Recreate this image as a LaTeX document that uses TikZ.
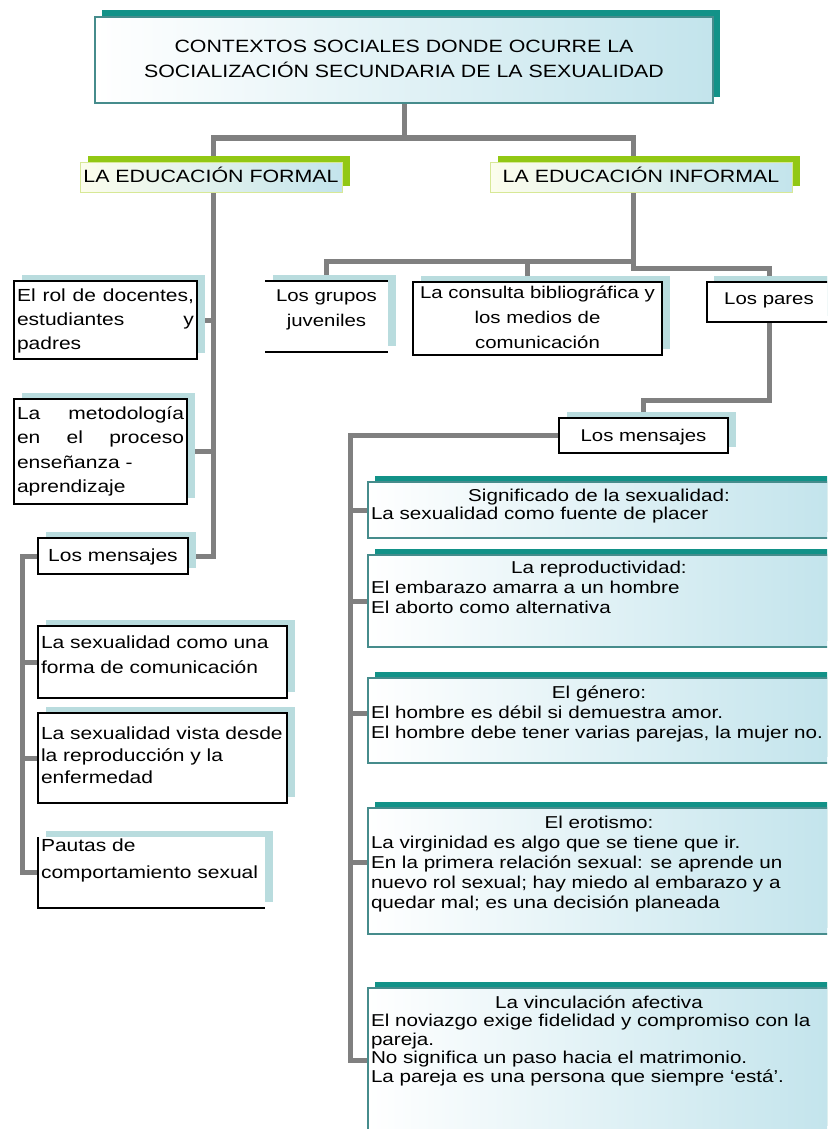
\documentclass[tikz,border=0pt]{standalone}
\usepackage{fontspec}
\setmainfont{Liberation Sans}[FakeStretch=1.2]
\usetikzlibrary{backgrounds,shadows}
\definecolor{conncol}{RGB}{128,128,128}
\definecolor{tealc}{RGB}{18,146,136}
\definecolor{greenc}{RGB}{146,200,20}
\definecolor{shblue}{RGB}{185,220,222}
\definecolor{fillblue}{RGB}{195,228,236}
\definecolor{tealedge}{RGB}{70,140,140}
\definecolor{paleedge}{RGB}{215,232,150}
\definecolor{paleyel}{RGB}{252,253,236}
\newcommand\fbx[1]{\rule{0pt}{#1pt}}
\newcommand\bxt[3]{\parbox[c][#2pt][t]{#1pt}{#3}}
\begin{document}
\begin{tikzpicture}[x=1pt,y=-1pt,
  conn/.style={draw=conncol, line width=5pt, line cap=rect},
  base/.style={anchor=north west, inner xsep=3pt, inner ysep=0pt, outer sep=0pt, font=\fontsize{17}{24}\selectfont},
  blackbox/.style={base, draw=black, line width=1.6pt, fill=white,
    general shadow={fill=shblue, draw=none, shadow xshift=8pt, shadow yshift=6pt}},
  openbox/.style={base, fill=white,
    general shadow={fill=shblue, draw=none, shadow xshift=8pt, shadow yshift=6pt}},
  greenbox/.style={base, draw=paleedge, line width=1pt, left color=paleyel, right color=fillblue,
    general shadow={fill=greenc, draw=none, shadow xshift=8pt, shadow yshift=6pt}},
  tealbox/.style={base, draw=tealedge, line width=1.2pt, left color=white, right color=fillblue,
    general shadow={fill=tealc, draw=none, shadow xshift=7pt, shadow yshift=6pt}},
  edge/.style={draw=black, line width=1.6pt}
]
\useasboundingbox (0,0) rectangle (827,1129);
\clip (0,0) rectangle (827,1129);

% title
\node[tealbox, general shadow={fill=tealc, draw=none, shadow xshift=7pt, shadow yshift=7pt}] (title) at (95,17)
  {\bxt{612}{86}{\centering\fontsize{17.8}{25}\selectfont\fbx{36}CONTEXTOS SOCIALES DONDE OCURRE LA\\SOCIALIZACIÓN SECUNDARIA DE LA SEXUALIDAD}};

% level 2
\node[greenbox] (formal) at (80,162) {\bxt{256}{30}{\centering\fontsize{17.8}{24}\selectfont\fbx{20}LA EDUCACIÓN FORMAL}};
\node[greenbox] (informal) at (490,162) {\bxt{296}{30}{\centering\fontsize{17.8}{24}\selectfont\fbx{20}LA EDUCACIÓN INFORMAL}};

% formal column
\node[blackbox] (rol) at (14,281) {\bxt{177}{78}{\raggedright\fontsize{17.5}{24}\selectfont\fbx{20}\makebox[\linewidth][s]{El rol de docentes,}\\\makebox[\linewidth][s]{estudiantes y}\\padres}};
\node[blackbox] (metod) at (14,399) {\bxt{167}{105}{\raggedright\fontsize{17.5}{24.5}\selectfont\fbx{20}\makebox[\linewidth][s]{La metodología}\\\makebox[\linewidth][s]{en el proceso}\\enseñanza -\\aprendizaje}};
\node[blackbox] (mensL) at (38,538) {\bxt{144}{36}{\centering\fontsize{17.5}{24}\selectfont\fbx{23}Los mensajes}};
\node[blackbox] (s1) at (38,626) {\bxt{243}{72}{\raggedright\fontsize{17.5}{25}\selectfont\fbx{22}La sexualidad como una\\forma de comunicación}};
\node[blackbox] (s2) at (38,713) {\bxt{243}{90}{\raggedright\fontsize{17.5}{22}\selectfont\fbx{26}\mbox{La sexualidad vista desde}\\la reproducción y la\\enfermedad}};
\node[openbox] (s3) at (38,837) {\bxt{221}{71}{\raggedright\fontsize{17.5}{27}\selectfont\fbx{14}Pautas de\\comportamiento sexual}};
\draw[edge] (s3.north west) -- (s3.south west) -- (s3.south east);

% informal row
\node[openbox] (grupos) at (265,281) {\bxt{117}{71}{\centering\fontsize{17}{25}\selectfont\fbx{20}Los grupos\\juveniles}};
\draw[edge] (grupos.north west) -- (grupos.north east);
\draw[edge] (grupos.south west) -- (grupos.south east);
\node[blackbox] (consulta) at (413,282) {\bxt{243}{73}{\centering\fontsize{17}{25}\selectfont\fbx{16}La consulta bibliográfica y\\los medios de\\comunicación}};
\node[blackbox, general shadow={fill=shblue, draw=none, shadow xshift=7pt, shadow yshift=6pt}] (pares) at (707,282) {\bxt{118}{40}{\centering\fbx{22}Los pares}};
\node[blackbox] (mensR) at (559,418) {\bxt{163}{35}{\centering\fbx{23}Los mensajes}};

% teal message boxes
\node[tealbox] (boxA) at (368,482) {\bxt{456}{56}{\fontsize{17.2}{18.5}\selectfont{\centering\fbx{19}Significado de la sexualidad:\par}\raggedright La sexualidad como fuente de placer}};
\node[tealbox] (boxB) at (368,555) {\bxt{456}{92}{\fontsize{17.2}{20}\selectfont{\centering\fbx{18}La reproductividad:\par}\raggedright El embarazo amarra a un hombre\\El aborto como alternativa}};
\node[tealbox] (boxC) at (368,678) {\bxt{456}{85}{\fontsize{17.2}{20}\selectfont{\centering\fbx{20}El género:\par}\raggedright El hombre es débil si demuestra amor.\\\mbox{El hombre debe tener varias parejas, la mujer no.}}};
\node[tealbox] (boxD) at (368,808) {\bxt{456}{126}{\fontsize{17.2}{20}\selectfont{\centering\fbx{20}El erotismo:\par}\raggedright La virginidad es algo que se tiene que ir.\\En la primera relación sexual: se aprende un\\nuevo rol sexual; hay miedo al embarazo y a\\quedar mal; es una decisión planeada}};
\node[tealbox] (boxE) at (368,988) {\bxt{456}{144}{\fontsize{17.2}{18.5}\selectfont{\centering\fbx{20}La vinculación afectiva\par}\raggedright\mbox{El noviazgo exige fidelidad y compromiso con la}\\pareja.\\No significa un paso hacia el matrimonio.\\La pareja es una persona que siempre `está'.}};

% connectors
\begin{pgfonlayer}{background}
\fill[white] (0,0) rectangle (827,1129);
\coordinate (jC) at (404,138);
\coordinate (jL) at (213,138);
\coordinate (jR) at (633,138);
\coordinate (jI) at (633,261);
\coordinate (jM) at (22,556);
\coordinate (jT) at (350,435.5);
\draw[conn] (title.south) -- (jC);
\draw[conn] (jL) -- (jR);
\draw[conn] (jL) |- (mensL.east);
\draw[conn] (rol.east) -- (rol.east -| jL);
\draw[conn] (metod.east) -- (metod.east -| jL);
\draw[conn] (mensL.west) -- (jM) |- (s3.west);
\draw[conn] (s1.west) -- (s1.west -| jM);
\draw[conn] (s2.west) -- (s2.west -| jM);
\draw[conn] (jR) -- (jI);
\draw[conn] (jI) -| (grupos.north);
\draw[conn] ([xshift=-10pt]consulta.north) -- ([xshift=-10pt]consulta.north |- jI);
\draw[conn] (jI) -- ++(0,7) -| (pares.north);
\draw[conn] (pares.south) -- ++(0,78) -| (mensR.north);
\draw[conn] (mensR.west) -- (jT) |- (boxE.west);
\draw[conn] (boxA.west) -- (boxA.west -| jT);
\draw[conn] (boxB.west) -- (boxB.west -| jT);
\draw[conn] ([yshift=7pt]boxC.west) -- ([yshift=7pt]boxC.west -| jT);
\draw[conn] ([yshift=9pt]boxD.west) -- ([yshift=9pt]boxD.west -| jT);
\end{pgfonlayer}
\end{tikzpicture}
\end{document}
